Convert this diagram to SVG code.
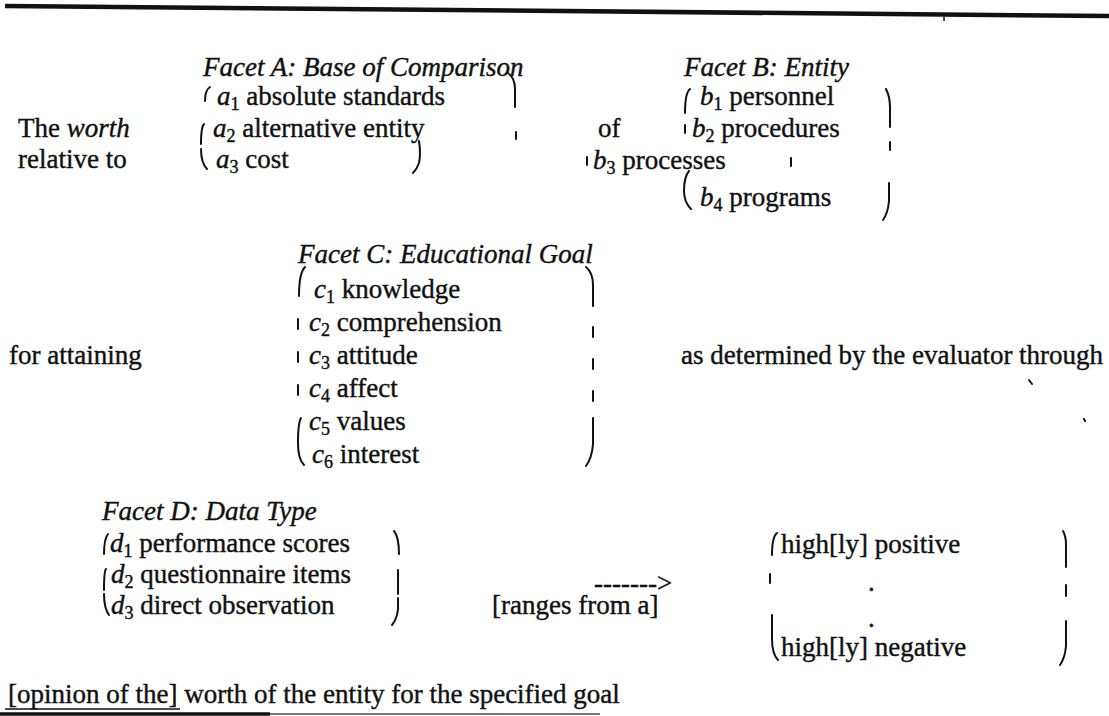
<svg xmlns="http://www.w3.org/2000/svg" width="1109" height="716" viewBox="0 0 1109 716">
<style>
text{font-family:"Liberation Serif","Times New Roman",serif;font-size:27px;fill:#111;stroke:#111;stroke-width:0.4px}
.i{font-style:italic}
.s{font-size:18px}
.b{fill:none;stroke:#111;stroke-width:2;stroke-linecap:round}
.r{stroke:#111;fill:none}
</style>
<rect width="1109" height="716" fill="#fff"/>
<g id="rules">
<line class="r" x1="5" y1="6" x2="1109" y2="16" stroke-width="4.5"/>
<line class="r" x1="944" y1="17" x2="944" y2="21" stroke-width="1.5"/>
<line class="r" x1="5" y1="709" x2="180" y2="709" stroke-width="1.5"/>
<line class="r" x1="0" y1="714" x2="270" y2="714" stroke-width="3.5"/>
<line x1="270" y1="714" x2="600" y2="714" stroke="#777" stroke-width="2"/>
</g>
<g id="lead">
<text x="18" y="137">The <tspan class="i">worth</tspan></text>
<text x="18" y="168">relative to</text>
</g>
<g id="facetA">
<text class="i" x="203" y="76">Facet A: Base of Comparison</text>
<text x="217" y="105"><tspan class="i">a</tspan><tspan class="s" dy="5">1</tspan><tspan dy="-5"> absolute standards</tspan></text>
<text x="213" y="137"><tspan class="i">a</tspan><tspan class="s" dy="5">2</tspan><tspan dy="-5"> alternative entity</tspan></text>
<text x="216" y="168"><tspan class="i">a</tspan><tspan class="s" dy="5">3</tspan><tspan dy="-5"> cost</tspan></text>
<path class="b" d="M210,87 Q205,90 205,101"/>
<path class="b" d="M204,124 Q201,127 201,144"/>
<path class="b" d="M201,149 Q201,163 207,169"/>
<path class="b" d="M508,73 Q515,78 515,89 L515,107"/>
<path class="b" d="M516,132 L516,139"/>
<path class="b" d="M419,141 Q421,153 419,163 Q417,169 413,173"/>
</g>
<g id="of">
<text x="598" y="137">of</text>
</g>
<g id="facetB">
<text class="i" x="684" y="76">Facet B: Entity</text>
<text x="700" y="105"><tspan class="i">b</tspan><tspan class="s" dy="5">1</tspan><tspan dy="-5"> personnel</tspan></text>
<text x="692" y="137"><tspan class="i">b</tspan><tspan class="s" dy="5">2</tspan><tspan dy="-5"> procedures</tspan></text>
<text x="593" y="169"><tspan class="i">b</tspan><tspan class="s" dy="5">3</tspan><tspan dy="-5"> processes</tspan></text>
<text x="700" y="206"><tspan class="i">b</tspan><tspan class="s" dy="5">4</tspan><tspan dy="-5"> programs</tspan></text>
<path class="b" d="M690,89 Q685,93 685,113"/>
<path class="b" d="M685,125 L685,133"/>
<path class="b" d="M587,157 L587,165"/>
<path class="b" d="M791,158 L791,166"/>
<path class="b" d="M689,171 Q684,177 684,191 Q684,202 691,209"/>
<path class="b" d="M886,89 Q890,97 890,107 L890,127"/>
<path class="b" d="M890,142 L890,150"/>
<path class="b" d="M889,183 L889,201 Q888,213 883,220"/>
</g>
<g id="attain">
<text x="9" y="364">for attaining</text>
</g>
<g id="facetC">
<text class="i" x="298" y="263">Facet C: Educational Goal</text>
<text x="314" y="298"><tspan class="i">c</tspan><tspan class="s" dy="5">1</tspan><tspan dy="-5"> knowledge</tspan></text>
<text x="309" y="331"><tspan class="i">c</tspan><tspan class="s" dy="5">2</tspan><tspan dy="-5"> comprehension</tspan></text>
<text x="309" y="364"><tspan class="i">c</tspan><tspan class="s" dy="5">3</tspan><tspan dy="-5"> attitude</tspan></text>
<text x="309" y="397"><tspan class="i">c</tspan><tspan class="s" dy="5">4</tspan><tspan dy="-5"> affect</tspan></text>
<text x="309" y="430"><tspan class="i">c</tspan><tspan class="s" dy="5">5</tspan><tspan dy="-5"> values</tspan></text>
<text x="312" y="463"><tspan class="i">c</tspan><tspan class="s" dy="5">6</tspan><tspan dy="-5"> interest</tspan></text>
<path class="b" d="M305,267 Q299,273 299,296"/>
<path class="b" d="M298,319 L298,329"/>
<path class="b" d="M298,352 L298,362"/>
<path class="b" d="M298,385 L298,395"/>
<path class="b" d="M301,418 Q298,423 298,443 Q298,459 304,465"/>
<path class="b" d="M586,267 Q593,273 593,285 L593,306"/>
<path class="b" d="M593,327 L593,337"/>
<path class="b" d="M593,359 L593,369"/>
<path class="b" d="M593,391 L593,401"/>
<path class="b" d="M593,418 L593,444 Q592,458 586,466"/>
</g>
<g id="determined">
<text x="681" y="364">as determined by the evaluator through</text>
<path class="b" d="M1029,380 L1032,384" stroke-width="1.5"/>
<path class="b" d="M1084,419 L1085,421" stroke-width="1.2"/>
</g>
<g id="facetD">
<text class="i" x="102" y="520">Facet D: Data Type</text>
<text x="110" y="552"><tspan class="i">d</tspan><tspan class="s" dy="5">1</tspan><tspan dy="-5"> performance scores</tspan></text>
<text x="111" y="583"><tspan class="i">d</tspan><tspan class="s" dy="5">2</tspan><tspan dy="-5"> questionnaire items</tspan></text>
<text x="111" y="614"><tspan class="i">d</tspan><tspan class="s" dy="5">3</tspan><tspan dy="-5"> direct observation</tspan></text>
<path class="b" d="M108,534 Q104,539 104,554"/>
<path class="b" d="M106,569 Q104,571 104,590"/>
<path class="b" d="M104,594 Q104,608 109,615"/>
<path class="b" d="M394,531 Q399,537 399,554"/>
<path class="b" d="M398,570 L398,594"/>
<path class="b" d="M398,598 L398,609 Q397,619 392,625"/>
</g>
<g id="ranges">
<text x="594" y="592">-------&gt;</text>
<text x="492" y="614">[ranges from a]</text>
</g>
<g id="scale">
<text x="781" y="553">high[ly] positive</text>
<text x="868" y="591">.</text>
<text x="868" y="627">.</text>
<text x="781" y="656">high[ly] negative</text>
<path class="b" d="M777,533 Q772,537 772,555"/>
<path class="b" d="M770,574 L770,583"/>
<path class="b" d="M772,615 L772,639 Q772,654 778,660"/>
<path class="b" d="M1063,531 Q1066,536 1066,545 L1066,567"/>
<path class="b" d="M1066,585 L1066,596"/>
<path class="b" d="M1066,621 L1066,646 Q1065,658 1060,665"/>
</g>
<g id="conclusion">
<text x="8" y="703">[opinion of the] worth of the entity for the specified goal</text>
</g>
</svg>
